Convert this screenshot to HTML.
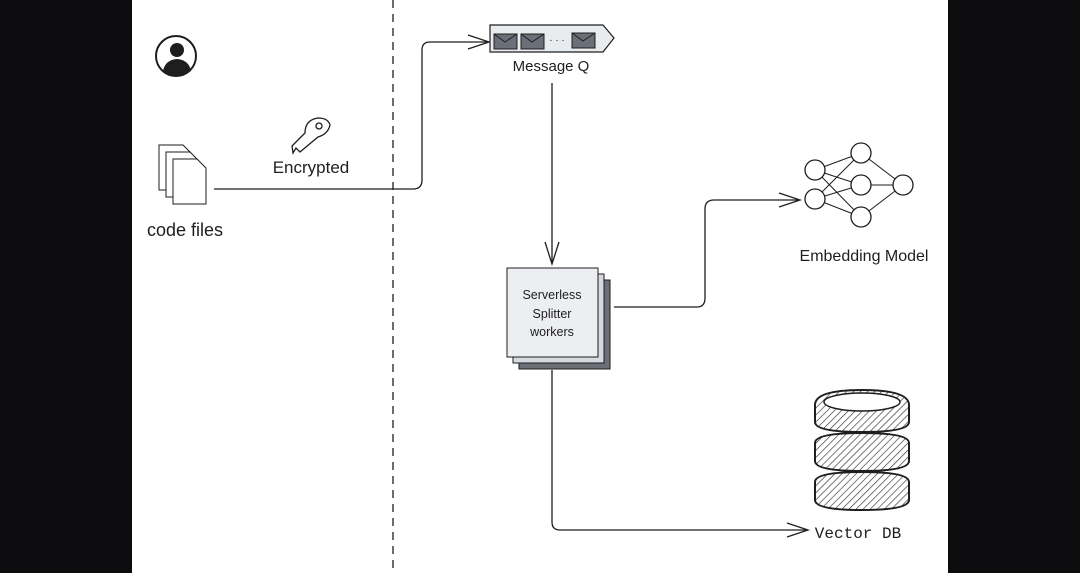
<!DOCTYPE html>
<html><head><style>
html,body{margin:0;padding:0;background:#0d0d0f;}
svg{display:block}
text{font-family:"Liberation Sans",sans-serif;fill:#1e1e1e}
</style></head><body>
<svg width="1080" height="573" viewBox="0 0 1080 573" xmlns="http://www.w3.org/2000/svg">
<defs>
<pattern id="h" width="5" height="5" patternUnits="userSpaceOnUse" patternTransform="rotate(45)">
<rect width="5" height="5" fill="#fff"/><line x1="0" y1="0" x2="0" y2="5" stroke="#333" stroke-width="1.3"/>
</pattern>
</defs>
<rect x="0" y="0" width="1080" height="573" rx="14" fill="#0d0d0f"/>
<rect x="132" y="0" width="816" height="573" fill="#ffffff"/>
<line x1="393" y1="0" x2="393" y2="573" stroke="#1e1e1e" stroke-width="1.3" stroke-dasharray="8,6"/>
<!-- user -->
<circle cx="176" cy="56" r="20" fill="#fff" stroke="#1e1e1e" stroke-width="2"/>
<circle cx="177" cy="50" r="7" fill="#1e1e1e"/>
<path d="M163 71 Q165 60 177 59 Q189 60 191 71 Q184 76 177 76 Q170 76 163 71Z" fill="#1e1e1e"/>
<!-- files -->
<g fill="#fff" stroke="#1e1e1e" stroke-width="1">
<path d="M159 145 H183 L192 154 V190 H159Z"/>
<path d="M166 152 H190 L199 161 V197 H166Z"/>
<path d="M173 159 H197 L206 168 V204 H173Z"/>
</g>
<text x="185" y="236" font-size="18" text-anchor="middle">code files</text>
<!-- key -->
<g fill="none" stroke="#1e1e1e" stroke-width="1.3">
<path d="M318 118 Q328 118 330 125 Q328 134 318 137 L300 152 L296 148 L293 153 L292 146 L305 133 Q305 120 318 118Z"/>
<circle cx="319" cy="126" r="3"/>
</g>
<text x="311" y="173" font-size="17" text-anchor="middle">Encrypted</text>
<!-- connector files -> queue -->
<path d="M214 189 H413 Q422 189 422 180 V50 Q422 42 430 42 H488" fill="none" stroke="#1e1e1e" stroke-width="1.3"/>
<path d="M468 35 L489 42 L468 49" fill="none" stroke="#1e1e1e" stroke-width="1.3"/>
<!-- queue -->
<path d="M490 25 H603 L614 38 L603 52 H490Z" fill="#e9ecef" stroke="#1e1e1e" stroke-width="1.2"/>
<g fill="#6b6f78" stroke="#1e1e1e" stroke-width="1">
<rect x="494" y="34" width="23" height="15"/><rect x="521" y="34" width="23" height="15"/><rect x="572" y="33" width="23" height="15"/>
</g>
<g fill="none" stroke="#1e1e1e" stroke-width="1"><path d="M494 34 L505 42 L517 34M521 34 L532 42 L544 34M572 33 L583 41 L595 33"/></g>
<text x="557" y="43" font-size="10" text-anchor="middle">· · ·</text>
<text x="551" y="71" font-size="15" text-anchor="middle">Message Q</text>
<!-- queue -> splitter -->
<line x1="552" y1="83" x2="552" y2="263" stroke="#1e1e1e" stroke-width="1.3"/>
<path d="M545 242 L552 264 L559 242" fill="none" stroke="#1e1e1e" stroke-width="1.3"/>
<!-- splitter -->
<rect x="519" y="280" width="91" height="89" fill="#6b6f78" stroke="#1e1e1e"/>
<rect x="513" y="274" width="91" height="89" fill="#d6d9df" stroke="#1e1e1e"/>
<rect x="507" y="268" width="91" height="89" fill="#eceef1" stroke="#1e1e1e"/>
<text x="552" y="299" font-size="12.5" text-anchor="middle">Serverless</text>
<text x="552" y="318" font-size="12.5" text-anchor="middle">Splitter</text>
<text x="552" y="336" font-size="12.5" text-anchor="middle">workers</text>
<!-- splitter -> embedding -->
<path d="M614 307 H697 Q705 307 705 298 V209 Q705 200 714 200 H798" fill="none" stroke="#1e1e1e" stroke-width="1.3"/>
<path d="M779 193 L800 200 L779 207" fill="none" stroke="#1e1e1e" stroke-width="1.3"/>
<!-- net -->
<g stroke="#1e1e1e" stroke-width="1" fill="none">
<path d="M815 170 L861 153 M815 170 L861 185 M815 170 L861 217 M815 199 L861 153 M815 199 L861 185 M815 199 L861 217 M861 153 L903 185 M861 185 L903 185 M861 217 L903 185"/>
</g>
<g fill="#fff" stroke="#1e1e1e" stroke-width="1.3">
<circle cx="815" cy="170" r="10"/><circle cx="815" cy="199" r="10"/>
<circle cx="861" cy="153" r="10"/><circle cx="861" cy="185" r="10"/><circle cx="861" cy="217" r="10"/>
<circle cx="903" cy="185" r="10"/>
</g>
<text x="864" y="261" font-size="16" text-anchor="middle">Embedding Model</text>
<!-- DB -->
<g stroke="#1e1e1e" stroke-width="2" fill="url(#h)">
<path d="M815 482 Q815 472 862 472 Q909 472 909 482 V500 Q909 510 862 510 Q815 510 815 500Z"/>
<path d="M815 443 Q815 433 862 433 Q909 433 909 443 V461 Q909 471 862 471 Q815 471 815 461Z"/>
<path d="M815 405 Q815 390 862 390 Q909 390 909 405 V422 Q909 432 862 432 Q815 432 815 422Z"/>
</g>
<ellipse cx="862" cy="402" rx="38" ry="9" fill="#fff" stroke="#1e1e1e" stroke-width="1.5"/>
<!-- splitter -> DB -->
<path d="M552 370 V522 Q552 530 560 530 H806" fill="none" stroke="#1e1e1e" stroke-width="1.3"/>
<path d="M787 523 L808 530 L787 537" fill="none" stroke="#1e1e1e" stroke-width="1.3"/>
<text x="858" y="538" font-size="16" font-family="Liberation Mono" text-anchor="middle" style="font-family:'Liberation Mono',monospace">Vector DB</text>
</svg>
</body></html>
